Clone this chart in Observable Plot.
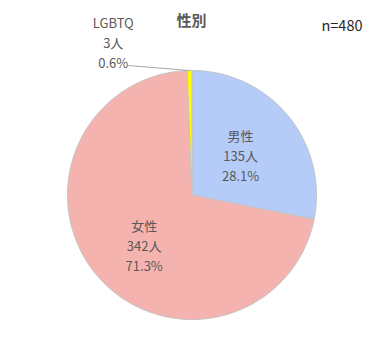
<!DOCTYPE html>
<html><head><meta charset="utf-8">
<script src="https://cdn.jsdelivr.net/npm/d3@7"></script>
<script src="https://cdn.jsdelivr.net/npm/@observablehq/plot@0.6"></script>
<style>
html,body{margin:0;padding:0;background:#fff;}
#chart{position:relative;width:386px;height:352px;font-family:"Noto Sans CJK JP","Noto Sans",sans-serif;}
#chart svg{position:absolute;left:0;top:0;}
#title{position:absolute;left:0;width:383px;top:10px;text-align:center;font-size:15px;line-height:20px;font-weight:bold;color:#595959;z-index:2;}
#n{position:absolute;left:292px;width:100px;top:15px;text-align:center;font-size:14.5px;line-height:20px;color:#262626;z-index:2;}
</style></head>
<body>
<div id="chart"><div id="title">性別</div><div id="n"></div></div>
<script>
const categories = ["男性", "女性", "LGBTQ"];
const counts = [135, 342, 3];
const percents = ["28.1", "71.3", "0.6"];
const colors = ["#b4ccf7", "#f4b3ae", "#ffff00"];

const total = d3.sum(counts);
document.getElementById("n").textContent = "n=" + total;

const W = 386, H = 352, R = 124.5, cx = 191.5, cy = 194.5;
const arcs = d3.pie().sort(null).value(d => d)(counts);
const slices = arcs.map((a, i) => ({
  name: categories[i], count: counts[i], pct: percents[i],
  start: a.startAngle, end: a.endAngle, mid: (a.startAngle + a.endAngle) / 2
}));

// slice outlines: centre, arc sampled every degree, centre
const pts = [];
for (const s of slices) {
  pts.push({name: s.name, x: 0, y: 0});
  const n = Math.max(2, Math.ceil((s.end - s.start) / (Math.PI / 180)));
  for (let k = 0; k <= n; k++) {
    const a = s.start + (s.end - s.start) * k / n;
    pts.push({name: s.name, x: Math.sin(a), y: Math.cos(a)});
  }
  pts.push({name: s.name, x: 0, y: 0});
}

const inside = slices.filter(s => s.count / total >= 0.05).map(s => ({
  ...s, x: 0.505 * Math.sin(s.mid), y: 0.56 * Math.cos(s.mid)
}));
const outside = slices.filter(s => s.count / total < 0.05).map(s => {
  const ax = Math.sin(s.mid), ay = Math.cos(s.mid);
  return {...s, ax, ay, lx: ax - 61.3 / R, ly: ay + 5 / R};
});
const label = d => `${d.name}\n${d.count}人\n${d.pct}%`;

const chart = Plot.plot({
  width: W, height: H,
  marginLeft: cx - R, marginRight: W - cx - R,
  marginTop: cy - R, marginBottom: H - cy - R,
  x: {domain: [-1, 1], axis: null},
  y: {domain: [-1, 1], axis: null},
  color: {domain: categories, range: colors},
  style: {background: "transparent", fontFamily: "'Noto Sans CJK JP','Noto Sans',sans-serif"},
  marks: [
    Plot.line(pts, {x: "x", y: "y", z: "name", fill: "name", stroke: "#c4c4c4", strokeWidth: 1, strokeLinejoin: "round"}),
    Plot.text(inside, {x: "x", y: "y", dy: 4, text: label, fontSize: 13, fill: "#595959", lineHeight: 1.55}),
    Plot.link(outside, {x1: "lx", y1: "ly", x2: "ax", y2: "ay", stroke: "#a6a6a6", strokeWidth: 1}),
    Plot.text(outside, {x: "ax", y: "ay", dx: -76.3, dy: -29, text: label, fontSize: 13, fill: "#595959", lineHeight: 1.55})
  ]
});
document.getElementById("chart").appendChild(chart);
</script>
</body></html>
